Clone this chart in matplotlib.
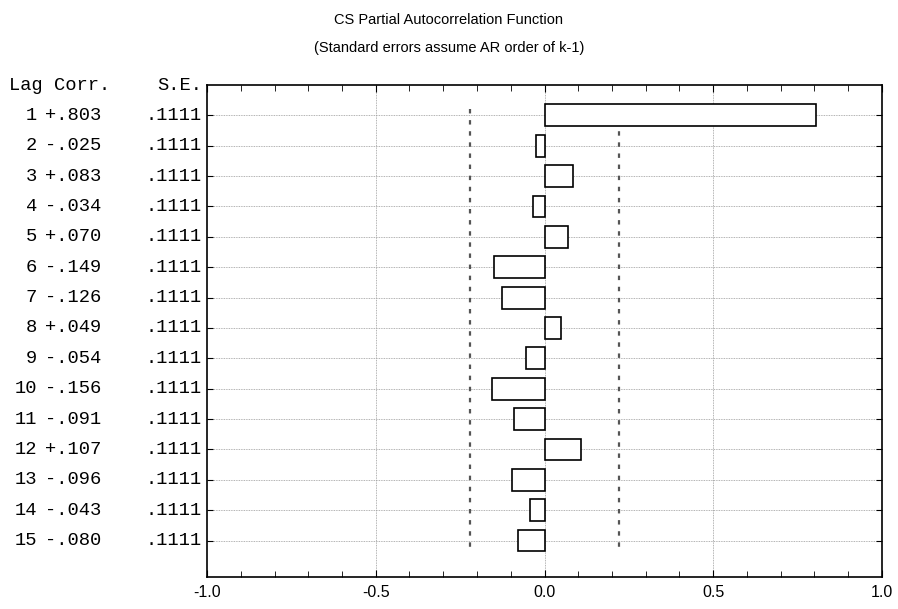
import matplotlib
matplotlib.use("Agg")
import matplotlib.pyplot as plt
import numpy as np

lags = list(range(1, 16))
corr = [0.803, -0.025, 0.083, -0.034, 0.070, -0.149, -0.126, 0.049,
        -0.054, -0.156, -0.091, 0.107, -0.096, -0.043, -0.080]
se = [0.1111] * 15

fig = plt.figure(figsize=(8.98, 6.09), dpi=100)
ax = fig.add_axes([207/898, 1 - 577/609, 675/898, 492/609])

ax.barh(lags, corr, height=0.72, left=0, color="white", edgecolor="black", lw=1.2, zorder=3)
for y in lags:
    ax.axhline(y, color="#999999", lw=0.6, ls=(0, (1, 1)), zorder=1)
for x in [-0.5, 0, 0.5]:
    ax.axvline(x, color="#999999", lw=0.6, ls=(0, (1, 1)), zorder=1)
lim = 2 * se[0]
for s in (-1, 1):
    ax.plot([s * lim, s * lim], [lags[0] - 0.2, lags[-1] + 0.2], color="#555555",
            lw=1.6, ls=(0, (2, 3)), zorder=2)

ax.set_xlim(-1, 1)
ax.set_ylim(16.2, 0)
ax.set_xticks([-1.0, -0.5, 0.0, 0.5, 1.0])
ax.set_xticklabels(["-1.0", "-0.5", "0.0", "0.5", "1.0"], fontsize=11.5,
                   family="Liberation Sans")
ax.set_xticks(np.arange(-1, 1.01, 0.1), minor=True)
ax.tick_params(axis="x", which="both", direction="in", top=True, length=4)
ax.tick_params(axis="x", which="major", length=5, pad=6)
ax.set_yticks(lags)
ax.set_yticklabels([])
ax.tick_params(axis="y", direction="in", length=4, right=True)
for sp in ax.spines.values():
    sp.set_linewidth(1.2)

mono = dict(family="Liberation Mono", fontsize=13.5, va="center")
fig.text(9/898, 1 - 86/609, "Lag Corr.", **mono)
fig.text(202/898, 1 - 86/609, "S.E.", ha="right", **mono)
for lag, c, e in zip(lags, corr, se):
    yf = ax.transData.transform((0, lag))[1] / 609
    fig.text(37/898, yf, str(lag), ha="right", **mono)
    fig.text(45/898, yf, ("+" if c >= 0 else "-") + ("%.3f" % abs(c))[1:], **mono)
    fig.text(202/898, yf, ("%.4f" % e)[1:], ha="right", **mono)

fig.text(0.5, 1 - 20/609, "CS Partial Autocorrelation Function", ha="center",
         va="center", fontsize=10.5, family="Liberation Sans")
fig.text(0.5, 1 - 48/609, "(Standard errors assume AR order of k-1)", ha="center",
         va="center", fontsize=10.5, family="Liberation Sans")

fig.savefig("out.png", dpi=100)
